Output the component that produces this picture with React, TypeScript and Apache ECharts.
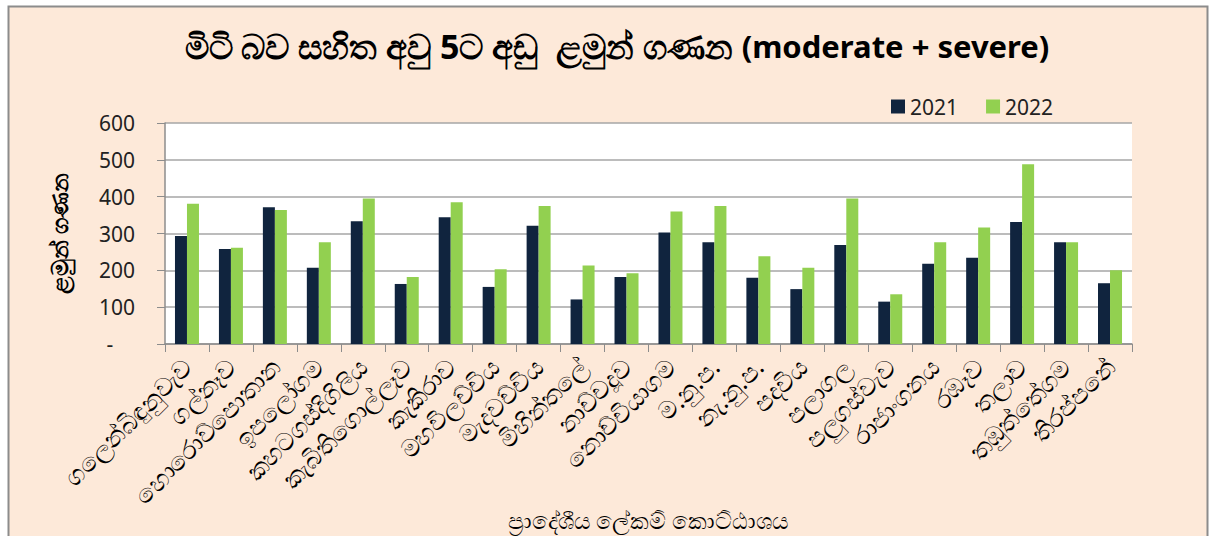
import React, { useEffect, useRef } from "react";
import * as echarts from "echarts";

const categories = [
  "ගලෙන්බිඳුනුවැව",
  "ගල්නෑව",
  "හොරොව්පොතාන",
  "ඉපලෝගම",
  "කහටගස්දිගිලිය",
  "කැබිතිගොල්ලෑව",
  "කැකිරාව",
  "මහවිලච්චිය",
  "මැදවච්චිය",
  "මිහින්තලේ",
  "නාච්චදූව",
  "නොච්චියාගම",
  "ම.නු.ප.",
  "නැ.නු.ප.",
  "පදවිය",
  "පලාගල",
  "පලුගස්වැව",
  "රාජාංගනය",
  "රඹෑව",
  "තලාව",
  "තඹුත්තේගම",
  "තිරප්පනේ",
];

const values2021 = [293, 258, 371, 207, 333, 163, 344, 155, 321, 121, 182, 303, 276, 180, 149, 269, 115, 218, 234, 331, 276, 165];
const values2022 = [381, 261, 364, 276, 395, 182, 385, 203, 375, 213, 192, 360, 375, 238, 207, 395, 135, 276, 316, 488, 276, 200];

const seriesNames = ["2021", "2022"];
const titleSinhala = "මිටි බව සහිත අවු 5ට අඩු  ළමුන් ගණන ";
const titleLatin = "(moderate + severe)";
const yAxisTitle = "ළමුන් ගණන";
const xAxisTitle = "ප්‍රාදේශීය ලේකම් කොට්ඨාශය";

const FONT = "'Noto Sans', 'Open Sans', sans-serif";

export default function App() {
  const ref = useRef<HTMLDivElement>(null);
  useEffect(() => {
    if (!ref.current) return;
    const chart = echarts.init(ref.current, null, { renderer: "svg" });
    chart.setOption({
      animation: false,
      backgroundColor: "#ffffff",
      graphic: [
        {
          type: "rect",
          z: -10,
          shape: { x: 8.5, y: 6.5, width: 1199, height: 540 },
          style: { fill: "#FDE9D9", stroke: "#8C8C8C", lineWidth: 2 },
        },
      ],
      title: {
        text: "{s|" + titleSinhala + "}{l|" + titleLatin + "}",
        left: 612,
        textAlign: "center",
        top: 24,
        textStyle: {
          rich: {
            s: { fontFamily: FONT, fontSize: 34, fontWeight: "bold", color: "#000" },
            l: { fontFamily: FONT, fontSize: 31, fontWeight: "bold", color: "#000" },
          },
        },
      },
      legend: {
        left: 886,
        top: 91,
        itemWidth: 14,
        itemHeight: 14,
        itemGap: 28,
        icon: "rect",
        textStyle: { fontFamily: FONT, fontSize: 21, color: "#222" },
        data: seriesNames,
      },
      grid: {
        left: 165,
        right: 78,
        top: 123,
        bottom: 192,
        backgroundColor: "#fff",
        show: true,
        borderWidth: 0,
        containLabel: false,
        outerBoundsMode: "none",
      },
      xAxis: {
        type: "category",
        data: categories,
        name: xAxisTitle,
        nameLocation: "middle",
        nameGap: 164,
        nameMoveOverlap: false,
        nameTextStyle: { fontFamily: FONT, fontSize: 23, color: "#000", lineHeight: 24 },
        axisLine: { lineStyle: { color: "#8C8C8C", width: 1.5 } },
        axisTick: { show: true, length: 8, alignWithLabel: false, lineStyle: { color: "#8C8C8C" } },
        axisLabel: { rotate: 45, fontFamily: FONT, fontSize: 25, color: "#000", margin: 18, interval: 0 },
      },
      yAxis: {
        type: "value",
        min: 0,
        max: 600,
        interval: 100,
        name: yAxisTitle,
        nameLocation: "middle",
        nameRotate: 90,
        nameGap: 95,
        nameMoveOverlap: false,
        nameTextStyle: { fontFamily: FONT, fontSize: 23, fontWeight: "bold", color: "#000" },
        axisLine: { show: true, lineStyle: { color: "#8C8C8C", width: 1.5 } },
        axisTick: { show: true, length: 8, lineStyle: { color: "#8C8C8C" } },
        axisLabel: {
          fontFamily: FONT,
          fontSize: 21,
          color: "#222",
          margin: 30,
          formatter: (v: number) => (v === 0 ? "-    " : String(v)),
        },
        splitLine: { lineStyle: { color: "#A6A6A6", width: 1.5 } },
      },
      series: [
        {
          name: seriesNames[0],
          type: "bar",
          data: values2021,
          barWidth: 12,
          barGap: "0%",
          itemStyle: { color: "#10243E" },
        },
        {
          name: seriesNames[1],
          type: "bar",
          data: values2022,
          barWidth: 12,
          barGap: "0%",
          itemStyle: { color: "#92D050" },
        },
      ],
    });
    return () => chart.dispose();
  }, []);
  return <div ref={ref} style={{ position: "fixed", left: 0, top: 0, width: 1210, height: 536 }} />;
}
